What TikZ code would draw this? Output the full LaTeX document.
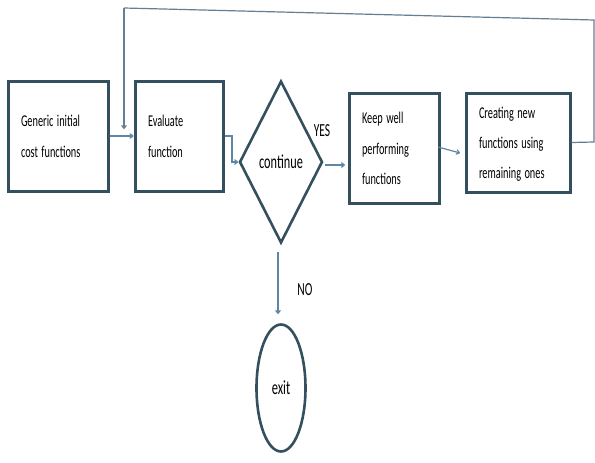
\documentclass[tikz,border=0pt]{standalone}
\usepackage{fontspec}
\setmainfont{Carlito}
\usetikzlibrary{shapes.geometric,arrows.meta}
\definecolor{boxc}{HTML}{34505F}
\definecolor{arrc}{HTML}{5E87A6}
\definecolor{loopc}{HTML}{647F94}
\newcommand\tx[1]{\scalebox{1}[1.6]{\begin{tabular}{@{}l@{}}#1\end{tabular}}}
\newcommand\st[1]{\scalebox{1}[1.6]{#1}}
\begin{document}
\begin{tikzpicture}[x=1pt,y=-1pt,
  procbox/.style={draw=boxc,line width=3pt,rectangle,inner xsep=13pt,inner ysep=0pt,align=left,
    font=\fontsize{10.3}{18.8}\selectfont},
  decide/.style={draw=boxc,line width=2.6pt,diamond,inner sep=0pt,minimum width=83pt,minimum height=162pt,
    font=\fontsize{12.3}{14}\selectfont},
  term/.style={draw=boxc,line width=2.6pt,ellipse,inner sep=0pt,minimum width=49pt,minimum height=127pt,
    font=\fontsize{12.5}{14}\selectfont},
  lbl/.style={inner sep=0pt,font=\fontsize{11.5}{14}\selectfont},
  conn/.style={draw=arrc,line width=1.2pt,-{To[length=4pt,width=5.5pt]}},
  loopline/.style={draw=loopc,line width=1.2pt}]
\useasboundingbox (0,0) rectangle (595,463);
\fill[white] (0,0) rectangle (595,463);

\node[procbox,minimum width=100pt,minimum height=110pt,text width=74pt] (b1) at (58,136) {\tx{Generic initial\\cost functions}};
\node[procbox,minimum width=88pt,minimum height=110pt,text width=62pt] (b2) at (179,136) {\tx{Evaluate\\function}};
\node[decide] (d) at (281,162) {\st{continue}};
\node[procbox,minimum width=88pt,minimum height=110pt,text width=64pt] (b3) at (394,148) {\tx{Keep well\\performing\\functions}};
\node[procbox,minimum width=104pt,minimum height=99pt,text width=78pt] (b4) at (518,142.5) {\tx{Creating new\\functions using\\remaining ones}};
\node[term] (e) at (281,388) {\st{exit}};

\node[lbl] (yes) at (322,131) {\st{YES}};
\node[lbl] (no) at (305,290) {\st{NO}};

% connectors
\draw[conn] (b1.east) -- (b2.west);
\coordinate (j1) at (232,136);
\draw[conn] (b2.east) -- (j1) |- (d.west);
\coordinate (ya) at (325,165);
\coordinate (yb) at (345,165);
\draw[conn] (ya) -- (yb);
\coordinate (ka) at (438,147);
\coordinate (kb) at (460,153);
\draw[conn] (ka) -- (kb);
\coordinate (na) at (278,252);
\coordinate (nb) at (278,314);
\draw[conn] (na) -- (nb);

\coordinate (r1) at (594,142);
\coordinate (r2) at (594,20);
\coordinate (t1) at (124,8);
\coordinate (t2) at (124,129);
\draw[loopline] (b4.east) -- (r1) -- (r2) -- (t1);
\draw[conn,draw=loopc] (t1) -- (t2);
\end{tikzpicture}
\end{document}
